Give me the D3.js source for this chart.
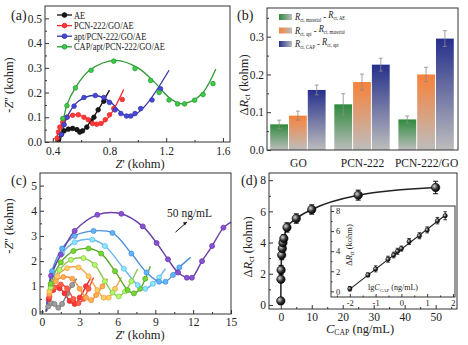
<!DOCTYPE html>
<html><head><meta charset="utf-8">
<script src="https://cdn.jsdelivr.net/npm/d3@7"></script>
<style>
body{margin:0;background:#fff}
text{font-family:"Liberation Serif","Times New Roman",serif;fill:#222}
</style></head><body>
<svg id="fig" width="468" height="345"></svg>
<script>
// ---- panel (a) data: Nyquist plots, [Z', -Z''] in kohm
var aNames = ['AE', 'PCN-222/GO/AE', 'apt/PCN-222/GO/AE', 'CAP/apt/PCN-222/GO/AE'];
var aColors = ['#111111', '#f02a2a', '#3535a8', '#2c9a35'];
var aAEmarks   = [[0.44,0.01],[0.46,0.03],[0.48,0.045],[0.51,0.052],[0.54,0.055],[0.57,0.05],[0.59,0.04],[0.61,0.045],[0.64,0.06],[0.67,0.085],[0.69,0.1],[0.72,0.13],[0.76,0.165]];
var aAEline    = [[0.43,0],[0.46,0.035],[0.5,0.052],[0.54,0.055],[0.58,0.042],[0.6,0.04],[0.65,0.07],[0.72,0.13],[0.8,0.21]];
var aPCNmarks  = [[0.43,0.015],[0.44,0.04],[0.45,0.06],[0.47,0.08],[0.5,0.1],[0.54,0.108],[0.58,0.11],[0.62,0.1],[0.65,0.09],[0.68,0.075],[0.71,0.072],[0.74,0.075],[0.77,0.09],[0.8,0.11],[0.83,0.135],[0.89,0.172]];
var aPCNline   = [[0.42,0],[0.46,0.07],[0.52,0.105],[0.58,0.11],[0.64,0.095],[0.7,0.072],[0.74,0.075],[0.8,0.105],[0.9,0.212]];
var aAptMarks  = [[0.46,0.03],[0.48,0.07],[0.5,0.1],[0.55,0.145],[0.62,0.18],[0.7,0.188],[0.76,0.18],[0.8,0.16],[0.84,0.13],[0.88,0.115],[0.92,0.105],[0.95,0.105],[0.98,0.115],[1.02,0.135],[1.1,0.17],[1.16,0.215]];
var aAptLine   = [[0.45,0],[0.5,0.1],[0.58,0.165],[0.7,0.188],[0.8,0.165],[0.9,0.11],[0.96,0.105],[1.05,0.145],[1.22,0.29]];
var aCapMarks  = [[0.47,0.095],[0.5,0.147],[0.56,0.219],[0.67,0.29],[0.83,0.327],[0.98,0.297],[1.09,0.249],[1.15,0.2],[1.22,0.17],[1.28,0.154],[1.33,0.154],[1.4,0.169],[1.46,0.192],[1.53,0.236]];
var aCapLine   = [[0.45,0],[0.5,0.15],[0.56,0.22],[0.66,0.29],[0.84,0.33],[1.0,0.3],[1.12,0.24],[1.22,0.18],[1.3,0.155],[1.38,0.165],[1.46,0.2],[1.55,0.295]];

// ---- panel (b) data: delta Rct bars
var bGroups = ['GO', 'PCN-222', 'PCN-222/GO'];
var bMaterial = [0.068, 0.121, 0.081];
var bApt      = [0.091, 0.180, 0.200];
var bCap      = [0.159, 0.226, 0.295];
var bMaterialErr = [0.011, 0.028, 0.009];
var bAptErr      = [0.012, 0.021, 0.019];
var bCapErr      = [0.013, 0.017, 0.021];
var bColors = ['#2e8a3c', '#f7823a', '#26308c'];

// ---- panel (c) data: Nyquist plots for increasing CAP
var cColors = ['#7a7a7a', '#e02b2b', '#f24a3a', '#f58a3c', '#f2a24a', '#8cc850', '#5aaa28', '#6ab6ec', '#4a8fd8', '#6b3fa8'];
var cGray   = [[0.35,0],[0.5,0.2],[0.75,0.33],[1.0,0.3],[1.3,0.15],[1.6,0.3],[2.0,0.7],[2.4,1.05],[2.75,1.3]];
var cRed1   = [[0.35,0],[0.55,0.5],[0.9,0.85],[1.4,0.92],[1.8,0.72],[2.2,0.42],[2.6,0.3],[3.0,0.55],[3.5,1.0],[3.9,1.35]];
var cRed2   = [[0.35,0],[0.6,0.6],[1.0,0.95],[1.5,1.07],[2.0,0.92],[2.5,0.5],[2.9,0.33],[3.3,0.5],[3.7,0.9],[4.1,1.35]];
var cOrange1= [[0.35,0],[0.6,0.7],[1.1,1.2],[1.7,1.37],[2.4,1.3],[3.0,0.9],[3.5,0.55],[3.9,0.45],[4.3,0.65],[4.8,1.0],[5.2,1.3]];
var cOrange2= [[0.35,0],[0.6,0.8],[1.2,1.4],[2.0,1.72],[2.9,1.75],[3.7,1.4],[4.4,0.85],[4.9,0.55],[5.3,0.55],[5.8,0.9],[6.3,1.35]];
var cLime   = [[0.35,0],[0.7,0.95],[1.4,1.65],[2.3,2.05],[3.3,2.12],[4.2,1.85],[5.0,1.2],[5.6,0.75],[6.1,0.6],[6.6,0.8],[7.1,1.2],[7.6,1.7]];
var cGreen  = [[0.35,0],[0.7,1.1],[1.5,1.95],[2.5,2.4],[3.7,2.5],[4.7,2.3],[5.8,1.6],[6.8,0.85],[7.3,0.72],[7.8,0.9],[8.2,1.3],[8.6,1.8]];
var cSky    = [[0.35,0],[0.8,1.45],[1.6,2.3],[2.6,2.75],[4.0,2.85],[5.0,2.6],[6.5,1.7],[7.6,1.05],[8.2,0.9],[8.8,1.1],[9.3,1.35],[9.8,1.7]];
var cBlue   = [[0.35,0],[0.8,1.6],[1.6,2.5],[2.6,3.0],[4.1,3.2],[5.6,3.12],[7.1,2.3],[8.3,1.55],[9.3,1.18],[9.8,1.18],[10.4,1.45],[10.9,1.75],[11.8,2.15]];
var cPurple = [[0.35,0],[0.73,1.42],[1.5,2.26],[2.6,3.2],[4.4,3.84],[6.3,3.88],[8.0,3.38],[9.1,2.72],[10.0,2.07],[10.8,1.55],[11.5,1.34],[11.9,1.34],[12.7,2.0],[13.5,2.6],[14.4,3.33],[15,3.55]];

// ---- panel (d) data: calibration
var dConc = [0.01, 0.05, 0.1, 0.3, 0.5, 0.7, 1, 2, 5, 10, 25, 50];
var dLog  = [-2, -1.3, -1, -0.52, -0.3, -0.15, 0, 0.3, 0.7, 1, 1.4, 1.7];
var dRct  = [0.26, 1.64, 2.24, 3.2, 3.62, 3.99, 4.26, 4.97, 5.54, 6.12, 7.04, 7.53];
var dErr  = [0.22, 0.2, 0.3, 0.3, 0.28, 0.3, 0.25, 0.3, 0.3, 0.3, 0.32, 0.4];
var dFit  = [[-2, 0.22], [1.7, 7.58]];

var svg = d3.select('#fig');
var TICK = 11.5;

function axes(g, x, y, o) {
    var x0 = x.range()[0], x1 = x.range()[1], y0 = y.range()[0], y1 = y.range()[1];
    if (o.xt) {
        var ax = g.append('g').attr('transform', 'translate(0,' + y0 + ')')
            .call(d3.axisBottom(x).tickValues(o.xt).tickSize(-4).tickPadding(o.xpad || 4).tickFormat(o.xf));
        ax.selectAll('text').style('font-size', TICK + 'px').attr('fill', '#222');
        ax.select('.domain').remove();
    }
    if (o.xm) {
        g.append('g').attr('transform', 'translate(0,' + y0 + ')')
            .call(d3.axisBottom(x).tickValues(o.xm).tickSize(-2).tickFormat(''))
            .select('.domain').remove();
    }
    var ay = g.append('g').attr('transform', 'translate(' + x0 + ',0)')
        .call(d3.axisLeft(y).tickValues(o.yt).tickSize(-4).tickPadding(3).tickFormat(o.yf));
    ay.selectAll('text').style('font-size', TICK + 'px').attr('fill', '#222');
    ay.select('.domain').remove();
    if (o.ym) {
        g.append('g').attr('transform', 'translate(' + x0 + ',0)')
            .call(d3.axisLeft(y).tickValues(o.ym).tickSize(-2).tickFormat(''))
            .select('.domain').remove();
    }
    g.selectAll('.tick line').attr('stroke', '#333');
    g.append('rect').attr('x', x0).attr('y', y1).attr('width', x1 - x0).attr('height', y0 - y1)
        .attr('fill', 'none').attr('stroke', '#333').attr('stroke-width', 1);
}

function ztext(g, x, y, rot, parts, fs) {
    var t = g.append('text').attr('x', x).attr('y', y).attr('text-anchor', 'middle')
        .style('font-size', fs + 'px');
    if (rot) t.attr('transform', 'rotate(-90,' + x + ',' + y + ')');
    parts.forEach(function (p) {
        var s = t.append('tspan').text(p[0]);
        if (p[1] == 'i') s.style('font-style', 'italic');
        if (p[1] == 'sub') s.style('font-size', (fs * 0.62) + 'px').attr('dy', 2);
        if (p[1] == 'up') s.attr('dy', -2);
    });
    return t;
}

var plain = function (d) { return String(d); };

// =================== (a)
var ga = svg.append('g');
var xA = d3.scaleLinear().domain([0.345, 1.65]).range([45, 230]);
var yA = d3.scaleLinear().domain([0, 0.55]).range([142, 6]);
var lineA = d3.line().x(function (d) { return xA(d[0]); }).y(function (d) { return yA(d[1]); })
    .curve(d3.curveCatmullRom.alpha(0.5));
var aLines = [aAEline, aPCNline, aAptLine, aCapLine];
var aMarks = [aAEmarks, aPCNmarks, aAptMarks, aCapMarks];
aLines.forEach(function (l, i) {
    ga.append('path').attr('d', lineA(l)).attr('fill', 'none').attr('stroke', aColors[i]).attr('stroke-width', 1.3);
});
aMarks.forEach(function (m, i) {
    ga.selectAll(null).data(m).enter().append('circle')
        .attr('cx', function (d) { return xA(d[0]); }).attr('cy', function (d) { return yA(d[1]); })
        .attr('r', 2.3).attr('fill', d3.color(aColors[i]).brighter(0.8)).attr('stroke', aColors[i]).attr('stroke-width', 0.8);
});
axes(ga, xA, yA, {xt: [0.4, 0.8, 1.2, 1.6], xm: [0.6, 1.0, 1.4], xf: d3.format('.1f'), xpad: 5,
                  yt: [0, 0.1, 0.2, 0.3, 0.4, 0.5], ym: [0.05, 0.15, 0.25, 0.35, 0.45], yf: d3.format('.1f')});
aNames.forEach(function (n, i) {
    var yy = 15 + i * 10.6;
    ga.append('line').attr('x1', 57).attr('x2', 72).attr('y1', yy).attr('y2', yy).attr('stroke', aColors[i]).attr('stroke-width', 1.3);
    ga.append('circle').attr('cx', 64.5).attr('cy', yy).attr('r', 2.3).attr('fill', d3.color(aColors[i]).brighter(0.8)).attr('stroke', aColors[i]);
    ga.append('g').attr('transform', 'translate(74,' + (yy + 3.5) + ') scale(0.8,1)')
        .append('text').style('font-size', '10.5px').attr('fill', aColors[i]).text(n);
});
ga.append('text').attr('x', 11).attr('y', 20).style('font-size', '14px').text('(a)');
ztext(ga, 140, 168, false, [['Z', 'i'], ["' (kohm)", '']], 12.5);
ztext(ga, 13, 85, true, [['-', ''], ['Z', 'i'], ["'' (kohm)", '']], 12.5);

// =================== (b)
var gb = svg.append('g');
var xB = d3.scaleBand().domain(bGroups).range([267, 458]).paddingInner(0.12).paddingOuter(0.05);
var xSub = d3.scaleBand().domain([0, 1, 2]).range([0, xB.bandwidth()]);
var yB = d3.scaleLinear().domain([0, 0.376]).range([150, 8]);
var defs = svg.append('defs');
bColors.forEach(function (c, i) {
    var gr = defs.append('linearGradient').attr('id', 'gb' + i).attr('x1', 0).attr('y1', 0).attr('x2', 0).attr('y2', 1);
    gr.append('stop').attr('offset', '0%').attr('stop-color', c);
    gr.append('stop').attr('offset', '100%').attr('stop-color', '#bdbdbd');
    var gh = defs.append('linearGradient').attr('id', 'gh' + i).attr('x1', 0).attr('y1', 0).attr('x2', 1).attr('y2', 0);
    gh.append('stop').attr('offset', '0%').attr('stop-color', c);
    gh.append('stop').attr('offset', '100%').attr('stop-color', '#bdbdbd');
});
var bSeries = [bMaterial, bApt, bCap];
var bErrs = [bMaterialErr, bAptErr, bCapErr];
bSeries.forEach(function (s, k) {
    gb.selectAll(null).data(s).enter().append('rect')
        .attr('x', function (d, i) { return xB(bGroups[i]) + xSub(k); })
        .attr('y', function (d) { return yB(d); })
        .attr('width', xSub.bandwidth() - 1)
        .attr('height', function (d) { return yB(0) - yB(d); })
        .attr('fill', 'url(#gb' + k + ')');
    s.forEach(function (d, i) {
        var cx = xB(bGroups[i]) + xSub(k) + xSub.bandwidth() / 2 - 0.5;
        var e = bErrs[k][i];
        gb.append('path').attr('d', 'M' + cx + ',' + yB(d - e) + 'V' + yB(d + e) +
            'M' + (cx - 2) + ',' + yB(d - e) + 'h4M' + (cx - 2) + ',' + yB(d + e) + 'h4')
            .attr('stroke', '#8a8a8a').attr('stroke-width', 0.8).attr('fill', 'none');
    });
});
axes(gb, d3.scaleLinear().range([267, 458]), yB, {yt: [0, 0.1, 0.2, 0.3], ym: [0.05, 0.15, 0.25, 0.35], yf: d3.format('.1f')});
bGroups.forEach(function (n) {
    gb.append('text').attr('x', xB(n) + xB.bandwidth() / 2).attr('y', 167).attr('text-anchor', 'middle')
        .style('font-size', '11.5px').text(n);
});
var bLegend = [[['R', 'i'], ['ct, material', 'sub'], [' - ', 'up'], ['R', 'i'], ['ct, AE', 'sub']],
               [['R', 'i'], ['ct, apt', 'sub'], [' - ', 'up'], ['R', 'i'], ['ct, material', 'sub']],
               [['R', 'i'], ['ct, CAP', 'sub'], [' - ', 'up'], ['R', 'i'], ['ct, apt', 'sub']]];
bLegend.forEach(function (parts, i) {
    var yy = 17 + i * 13.5;
    gb.append('rect').attr('x', 279).attr('y', yy - 3).attr('width', 13).attr('height', 6).attr('fill', 'url(#gh' + i + ')');
    var t = gb.append('g').attr('transform', 'translate(295,' + (yy + 3) + ') scale(0.85,1)')
        .append('text').style('font-size', '10px');
    parts.forEach(function (p, j) {
        var s = t.append('tspan').text(p[0]);
        if (p[1] == 'i') s.style('font-style', 'italic');
        if (p[1] == 'sub') s.style('font-size', '5.5px').attr('dy', 2);
        if (p[1] == 'up' || (p[1] == 'i' && j > 0)) s.attr('dy', -2);
    });
});
gb.append('text').attr('x', 237).attr('y', 20).style('font-size', '14px').text('(b)');
ztext(gb, 248, 85, true, [['\u0394', ''], ['R', 'i'], ['ct', 'sub'], [' (kohm)', 'up']], 12.5);

// =================== (c)
var gc = svg.append('g');
var xC = d3.scaleLinear().domain([-0.15, 15]).range([40, 231]);
var yC = d3.scaleLinear().domain([-0.1, 5.5]).range([314, 173]);
var lineC = d3.line().x(function (d) { return xC(d[0]); }).y(function (d) { return yC(d[1]); })
    .curve(d3.curveCatmullRom.alpha(0.5));
var cSeries = [cGray, cRed1, cRed2, cOrange1, cOrange2, cLime, cGreen, cSky, cBlue, cPurple];
cSeries.forEach(function (s, i) {
    gc.append('path').attr('d', lineC(s)).attr('fill', 'none').attr('stroke', cColors[i]).attr('stroke-width', 1.4);
});
cSeries.forEach(function (s, i) {
    gc.selectAll(null).data(s.slice(1, -1)).enter().append('circle')
        .attr('cx', function (d) { return xC(d[0]); }).attr('cy', function (d) { return yC(d[1]); })
        .attr('r', 2.5).attr('fill', d3.color(cColors[i]).brighter(0.7)).attr('stroke', cColors[i]).attr('stroke-width', 0.8);
});
axes(gc, xC, yC, {xt: [0, 3, 6, 9, 12, 15], xm: [1.5, 4.5, 7.5, 10.5, 13.5], xf: d3.format('d'), xpad: 3.5,
                  yt: [0, 1, 2, 3, 4, 5], ym: [0.5, 1.5, 2.5, 3.5, 4.5], yf: d3.format('d')});
gc.append('text').attr('x', 11).attr('y', 185).style('font-size', '14px').text('(c)');
gc.append('text').attr('x', 167).attr('y', 217).style('font-size', '11.5px').text('50 ng/mL');
gc.append('line').attr('x1', xC(10.6)).attr('y1', yC(3.15)).attr('x2', xC(11.5)).attr('y2', yC(3.55))
    .attr('stroke', '#111').attr('stroke-width', 1);
gc.append('path').attr('d', 'M' + xC(11.5) + ',' + yC(3.55) + 'l-4,0.3l2.2,3.2z').attr('fill', '#111');
ztext(gc, 140, 339, false, [['Z', 'i'], ["' (kohm)", '']], 12.5);
ztext(gc, 13, 226, true, [['-', ''], ['Z', 'i'], ["'' (kohm)", '']], 12.5);

// =================== (d)
var gd = svg.append('g');
var xD = d3.scaleLinear().domain([-3.8, 56.9]).range([269, 457]);
var yD = d3.scaleLinear().domain([-0.26, 8.46]).range([309, 173]);
var ball = defs.append('radialGradient').attr('id', 'ball').attr('cx', 0.35).attr('cy', 0.35).attr('r', 0.7);
ball.append('stop').attr('offset', '0%').attr('stop-color', '#d8d8d8');
ball.append('stop').attr('offset', '55%').attr('stop-color', '#333');
ball.append('stop').attr('offset', '100%').attr('stop-color', '#000');
var lineD = d3.line().x(function (d, i) { return xD(dConc[i]); }).y(function (d) { return yD(d); })
    .curve(d3.curveMonotoneX);
gd.append('path').attr('d', lineD(dRct)).attr('fill', 'none').attr('stroke', '#222').attr('stroke-width', 1.5);
dRct.forEach(function (d, i) {
    var cx = xD(dConc[i]);
    gd.append('path').attr('d', 'M' + cx + ',' + yD(d - dErr[i]) + 'V' + yD(d + dErr[i]) +
        'M' + (cx - 2.5) + ',' + yD(d - dErr[i]) + 'h5M' + (cx - 2.5) + ',' + yD(d + dErr[i]) + 'h5')
        .attr('stroke', '#111').attr('stroke-width', 1).attr('fill', 'none');
});
gd.selectAll(null).data(dRct).enter().append('circle')
    .attr('cx', function (d, i) { return xD(dConc[i]); }).attr('cy', function (d) { return yD(d); })
    .attr('r', 4.2).attr('fill', 'url(#ball)').attr('stroke', '#000').attr('stroke-width', 0.6);
axes(gd, xD, yD, {xt: [0, 10, 20, 30, 40, 50], xm: [5, 15, 25, 35, 45, 55], xf: d3.format('d'), xpad: 3.5,
                  yt: [0, 2, 4, 6, 8], ym: [1, 3, 5, 7], yf: d3.format('d')});
gd.append('text').attr('x', 241).attr('y', 185).style('font-size', '14px').text('(d)');
ztext(gd, 252, 247, true, [['\u0394', ''], ['R', 'i'], ['ct', 'sub'], [' (kohm)', 'up']], 12.5);
ztext(gd, 360, 333, false, [['C', 'i'], ['CAP', 'sub'], [' (ng/mL)', 'up']], 12.5);

// inset
var gi = gd.append('g');
var xI = d3.scaleLinear().domain([-2.73, 2.08]).range([331, 455]);
var yI = d3.scaleLinear().domain([-0.56, 8.5]).range([297, 206]);
gi.append('rect').attr('x', 331).attr('y', 206).attr('width', 124).attr('height', 91).attr('fill', '#fff');
gi.append('path').attr('d', 'M' + xI(dFit[0][0]) + ',' + yI(dFit[0][1]) + 'L' + xI(dFit[1][0]) + ',' + yI(dFit[1][1]))
    .attr('stroke', '#222').attr('stroke-width', 1.1);
dRct.forEach(function (d, i) {
    var cx = xI(dLog[i]);
    gi.append('path').attr('d', 'M' + cx + ',' + yI(d - dErr[i]) + 'V' + yI(d + dErr[i]) +
        'M' + (cx - 1.8) + ',' + yI(d - dErr[i]) + 'h3.6M' + (cx - 1.8) + ',' + yI(d + dErr[i]) + 'h3.6')
        .attr('stroke', '#111').attr('stroke-width', 0.8).attr('fill', 'none');
});
gi.selectAll(null).data(dRct).enter().append('circle')
    .attr('cx', function (d, i) { return xI(dLog[i]); }).attr('cy', function (d) { return yI(d); })
    .attr('r', 2.2).attr('fill', 'url(#ball)').attr('stroke', '#000').attr('stroke-width', 0.5);
var axI = gi.append('g').attr('transform', 'translate(0,297)')
    .call(d3.axisBottom(xI).tickValues([-2, -1, 0, 1, 2]).tickSize(-3).tickPadding(2.5).tickFormat(plain));
axI.select('.domain').remove();
axI.selectAll('text').style('font-size', '8.5px');
gi.append('g').attr('transform', 'translate(0,297)')
    .call(d3.axisBottom(xI).tickValues([-2.5, -1.5, -0.5, 0.5, 1.5]).tickSize(-1.5).tickFormat('')).select('.domain').remove();
var ayI = gi.append('g').attr('transform', 'translate(331,0)')
    .call(d3.axisRight(yI).tickValues([0, 2, 4, 6, 8]).tickSize(3).tickPadding(2).tickFormat(plain));
ayI.select('.domain').remove();
ayI.selectAll('text').style('font-size', '8.5px');
gi.append('g').attr('transform', 'translate(331,0)')
    .call(d3.axisRight(yI).tickValues([1, 3, 5, 7]).tickSize(1.5).tickFormat('')).select('.domain').remove();
gi.selectAll('.tick line').attr('stroke', '#333');
gi.append('rect').attr('x', 331).attr('y', 206).attr('width', 124).attr('height', 91)
    .attr('fill', 'none').attr('stroke', '#333');
ztext(gi, 352, 245, true, [['\u0394', ''], ['R', 'i'], ['ct', 'sub'], [' (kohm)', 'up']], 8.5);
ztext(gi, 393, 290, false, [['lg', ''], ['C', 'i'], ['CAP', 'sub'], [' (ng/mL)', 'up']], 8);
</script></body></html>
